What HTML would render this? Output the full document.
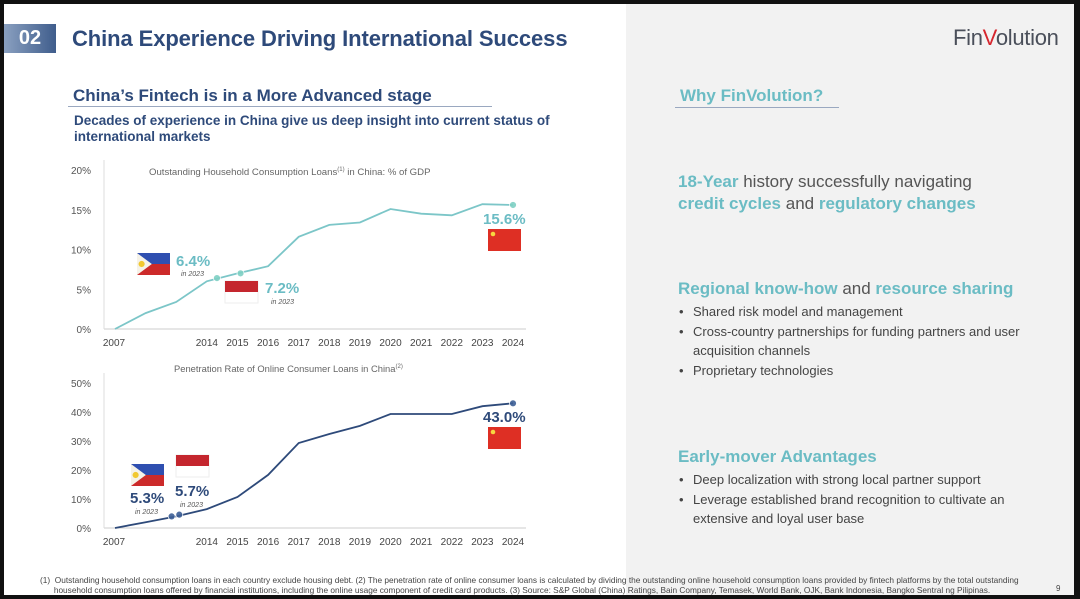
<!DOCTYPE html>
<html><head><meta charset="utf-8">
<style>
*{margin:0;padding:0;box-sizing:border-box}
body{width:1080px;height:599px;background:#111;font-family:"Liberation Sans",sans-serif;position:relative;overflow:hidden}
.abs{position:absolute}
#left{left:4px;top:4px;width:622px;height:591px;background:#fff}
#right{left:626px;top:4px;width:448px;height:591px;background:#f2f2f2}
.teal{color:#6bbcc4;font-weight:bold}
ul{list-style:none}
li{position:relative;padding-left:16px;font-size:13px;color:#444;line-height:19.5px}
li:before{content:"•";position:absolute;left:2px}
</style></head><body>
<div id="left" class="abs"></div>
<div id="right" class="abs"></div>

<div class="abs" style="left:4px;top:24px;width:52px;height:29px;background:linear-gradient(90deg,#8aa0c0,#3f5d8c);color:#fff;font-weight:bold;font-size:20px;line-height:29px;text-align:center">02</div>
<div class="abs" style="left:72px;top:26px;font-size:22px;font-weight:bold;color:#2e4a7a;letter-spacing:-0.1px">China Experience Driving International Success</div>
<div class="abs" style="left:953px;top:25px;font-size:22px;color:#4a4f5a;letter-spacing:-0.3px">Fin<span style="color:#d6262e">V</span>olution</div>

<div class="abs" style="left:73px;top:86px;font-size:17px;font-weight:bold;color:#2e4a7a">China’s Fintech is in a More Advanced stage</div>
<div class="abs" style="left:68px;top:106px;width:424px;height:1px;background:#9aa8c0"></div>
<div class="abs" style="left:74px;top:113px;width:520px;font-size:13.5px;font-weight:bold;color:#2e4a7a;line-height:16px">Decades of experience in China give us deep insight into current status of international markets</div>

<svg class="abs" style="left:0;top:0" width="626" height="560" id="charts"></svg>

<div class="abs teal" style="left:680px;top:86px;font-size:17px">Why FinVolution?</div>
<div class="abs" style="left:675px;top:107px;width:164px;height:1px;background:#9aa8c0"></div>

<div class="abs" style="left:678px;top:171px;font-size:17px;line-height:22px;color:#555"><span class="teal">18-Year</span> history successfully navigating<br><span class="teal">credit cycles</span> and <span class="teal">regulatory changes</span></div>

<div class="abs" style="left:678px;top:279px;font-size:17px;color:#555"><span class="teal">Regional know-how</span> and <span class="teal">resource sharing</span></div>
<ul class="abs" style="left:677px;top:302px;width:380px">
<li>Shared risk model and management</li>
<li>Cross-country partnerships for funding partners and user acquisition channels</li>
<li>Proprietary technologies</li>
</ul>

<div class="abs teal" style="left:678px;top:447px;font-size:17px">Early-mover Advantages</div>
<ul class="abs" style="left:677px;top:470px;width:380px">
<li>Deep localization with strong local partner support</li>
<li>Leverage established brand recognition to cultivate an extensive and loyal user base</li>
</ul>

<div class="abs" style="left:40px;top:576px;width:1000px;font-size:8.3px;line-height:9.5px;color:#444;white-space:nowrap">(1)&nbsp;&nbsp;Outstanding household consumption loans in each country exclude housing debt. (2) The penetration rate of online consumer loans is calculated by dividing the outstanding online household consumption loans provided by fintech platforms by the total outstanding<br>&nbsp;&nbsp;&nbsp;&nbsp;&nbsp;&nbsp;household consumption loans offered by financial institutions, including the online usage component of credit card products. (3) Source: S&amp;P Global (China) Ratings, Bain Company, Temasek, World Bank, OJK, Bank Indonesia, Bangko Sentral ng Pilipinas.</div>
<div class="abs" style="left:1056px;top:584px;font-size:8px;color:#444">9</div>

<script>
const categories=['2007','','','2014','2015','2016','2017','2018','2019','2020','2021','2022','2023','2024'];
const gdpValues=[0,2.0,3.4,6.0,7.0,7.9,11.6,13.1,13.4,15.1,14.5,14.3,15.7,15.6];
const gdpTicks=[0,5,10,15,20];
const penValues=[0,2.0,4.0,6.5,10.7,18.3,29.3,32.4,35.2,39.3,39.3,39.3,42.0,43.0];
const penTicks=[0,10,20,30,40,50];
const gdpMarkers=[{i:3.33,v:6.4},{i:4.1,v:7.0},{i:13,v:15.6}];
const penMarkers=[{i:1.85,v:4.0},{i:2.1,v:4.6},{i:13,v:43.0}];

const NS='http://www.w3.org/2000/svg';
const svg=document.getElementById('charts');
function mk(t,a,txt){const e=document.createElementNS(NS,t);for(const k in a)e.setAttribute(k,a[k]);if(txt!==undefined)e.textContent=txt;svg.appendChild(e);return e;}
function xAt(i){return 115+i*((513-115)/13);}
function chart(y0,y1,max,ticks,vals,markers,color,mcolor,name){
  const yS=v=>y0-(v/max)*(y0-y1);
  const ax=mk('line',{x1:104,y1:y0,x2:526,y2:y0,stroke:'#ccc','stroke-width':1});
  
  const ay=mk('line',{x1:104,y1:y1-10,x2:104,y2:y0,stroke:'#ddd','stroke-width':1});
  
  ticks.forEach(t=>{const e=mk('text',{x:91,y:yS(t)+4,'text-anchor':'end','font-size':10,fill:'#555'},t+'%');
    });
  categories.forEach((c,i)=>{if(!c)return;const e=mk('text',{x:xAt(i)+(i==0?-1:0),y:y0+17,'text-anchor':'middle','font-size':10,fill:'#444'},c);
    });
  const pts=vals.map((v,i)=>xAt(i).toFixed(1)+','+yS(v).toFixed(1)).join(' ');
  const pl=mk('polyline',{points:pts,fill:'none',stroke:color,'stroke-width':1.8});
  
  markers.forEach(m=>{const c=mk('circle',{cx:xAt(m.i),cy:yS(m.v),r:3.5,fill:mcolor,stroke:'#fff','stroke-width':0.8,opacity:0.9});
    });
}
chart(329,170,20,gdpTicks,gdpValues,gdpMarkers,'#7cc6c8','#7fd0c4','gdp');
chart(528,383,50,penTicks,penValues,penMarkers,'#2e4a7a','#3d5f96','pen');

function txt(x,y,s,size,fill,w,name,st){const e=mk('text',{x,y,'font-size':size,fill,'font-weight':w||'normal','font-style':st||'normal','text-anchor':'start'},s);
  return e;}
const t1=mk('text',{x:149,y:175,'font-size':9.6,fill:'#666'});

t1.innerHTML='Outstanding Household Consumption Loans<tspan font-size="6" dy="-4">(1)</tspan><tspan dy="4"> in China: % of GDP</tspan>';
const t2=mk('text',{x:174,y:372,'font-size':9.4,fill:'#666'});

t2.innerHTML='Penetration Rate of Online Consumer Loans in China<tspan font-size="6" dy="-4">(2)</tspan>';

function grp(name){const g=document.createElementNS(NS,'g');svg.appendChild(g);
  return (t,a)=>{const e=document.createElementNS(NS,t);for(const k in a)e.setAttribute(k,a[k]);g.appendChild(e);};}
function flagPH(x,y,w,h,name){const add=grp(name);
  add('rect',{x,y,width:w,height:h/2,fill:'#2f4fb0'});
  add('rect',{x,y:y+h/2,width:w,height:h/2,fill:'#cc2a2a'});
  add('polygon',{points:`${x},${y} ${x+w*0.45},${y+h/2} ${x},${y+h}`,fill:'#f5f2e8'});
  add('circle',{cx:x+w*0.14,cy:y+h/2,r:h*0.14,fill:'#f1c830'});}
function flagID(x,y,w,h,name){const add=grp(name);
  add('rect',{x,y,width:w,height:h,fill:'#fff',stroke:'#eee'});
  add('rect',{x,y,width:w,height:h/2,fill:'#c4262e'});}
function flagCN(x,y,w,h,name){const add=grp(name);
  add('rect',{x,y,width:w,height:h,fill:'#de2f24'});
  add('circle',{cx:x+5,cy:y+5,r:2.3,fill:'#f7d640'});}
flagPH(137,253,33,22,'flag-philippines-1');
txt(176,266,'6.4%',15,'#6bbcc4','bold','gdp-label-ph');
txt(181,276,'in 2023',7,'#555','normal','gdp-label-ph-year','italic');
flagID(225,281,33,22,'flag-indonesia-1');
txt(265,293,'7.2%',15,'#6bbcc4','bold','gdp-label-id');
txt(271,304,'in 2023',7,'#555','normal','gdp-label-id-year','italic');
txt(483,224,'15.6%',15,'#6bbcc4','bold','gdp-label-cn');
flagCN(488,229,33,22,'flag-china-1');
flagPH(131,464,33,22,'flag-philippines-2');
txt(130,503,'5.3%',15,'#2e4a7a','bold','pen-label-ph');
txt(135,514,'in 2023',7,'#555','normal','pen-label-ph-year','italic');
flagID(176,455,33,22,'flag-indonesia-2');
txt(175,496,'5.7%',15,'#2e4a7a','bold','pen-label-id');
txt(180,507,'in 2023',7,'#555','normal','pen-label-id-year','italic');
txt(483,422,'43.0%',15,'#2e4a7a','bold','pen-label-cn');
flagCN(488,427,33,22,'flag-china-2');
</script>
</body></html>
